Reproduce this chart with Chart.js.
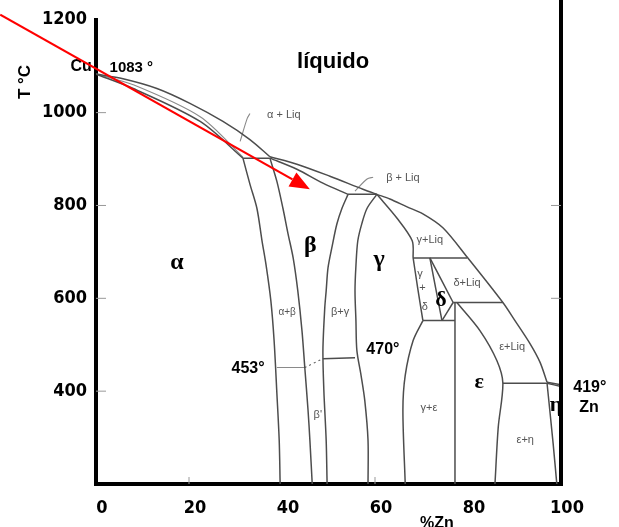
<!DOCTYPE html>
<html>
<head>
<meta charset="utf-8">
<script src="https://cdn.jsdelivr.net/npm/chart.js@4"></script>
<style>
  body { margin: 0; background: #fff; }
  #wrap { width: 619px; height: 527px; position: relative; }
</style>
</head>
<body>
<div id="wrap"><canvas id="chart"></canvas></div>
<script>
// diagrama Cu-Zn : cada frontera de fase es una lista de [%Zn, T]
const xTicks = [0, 20, 40, 60, 80, 100];
const yTicks = [400, 600, 800, 1000, 1200];

const liquidusCu = [[0,1083],[5.8,1073],[13.1,1052],[20.2,1020],[27.3,981],[33.1,942],[37.4,905]];
const liquidusZn = [[37.4,905],[43.2,889],[50.3,863],[57.4,835],[60.4,824],[63.2,814],[66.9,797],[70.3,782],[74.6,752],[79.8,689],[87.5,591],[90.1,552],[93.3,503],[95.5,462],[97,419]];
const liquidusFin = [[97,419],[100,414]];
const solidusAlfa = [[0,1083],[8,1052],[22.4,981],[31.6,902]];
const solidusAlfa2 = [[0,1083],[8,1060],[22.4,991],[31.6,904]];
const perit902 = [[31.6,902],[37.4,902]];
const solvusAlfa = [[31.6,902],[33.1,846],[34.6,794],[35.7,724],[36.6,670],[37.6,595],[38.3,509],[38.9,395],[39.4,294],[39.6,200]];
const betaIzq = [[37.4,902],[38.9,852],[40.2,794],[41.3,739],[42.4,687],[43.4,616],[44.3,530],[44.9,451],[45.6,359],[46.0,294],[46.5,200]];
const solidusBeta = [[37.4,902],[43.2,878],[48.8,848],[54.2,824]];
const perit824 = [[54.2,824],[60.4,824]];
const betaDer = [[54.2,824],[52.9,794],[51.8,760],[50.8,713],[49.9,666],[49.5,616],[49.2,580],[48.8,488],[49.0,402],[49.5,294],[49.7,200]];
const gammaIzq = [[60.4,824],[58.3,794],[57.2,762],[56.3,724],[55.9,670],[55.7,616],[55.9,552],[56.1,488],[57.0,434],[57.8,380],[58.5,294],[58.5,200]];
const gammaLiq = [[60.4,824],[64.7,773],[68.0,724],[68.2,687]];
const perit687 = [[68.2,687],[79.8,687]];
const gammaDelta = [[68.2,687],[69.2,621],[70.3,552]];
const deltaIzq = [[71.8,687],[74.4,552]];
const deltaDer = [[71.8,687],[76.8,591]];
const deltaBase = [[76.8,591],[74.4,552]];
const perit591 = [[76.8,591],[87.5,591]];
const eutect552 = [[70.3,552],[77.2,552]];
const epsVert = [[77.2,591],[77.2,200]];
const gammaEps = [[70.3,552],[68.2,509],[66.5,434],[66.0,359],[66.5,200]];
const epsIzq = [[77.6,591],[82.6,530],[86.2,466],[87.5,417],[86.5,322],[85.8,200]];
const perit417 = [[87.5,417],[97,417]];
const etaCurva = [[97,417],[98.3,288],[99.1,200]];
const zn419 = [[97,417],[100,410]];
const orden453 = [[38.9,451],[44.9,451]];
const ordenPunt = [[44.9,451],[48.8,470]];
const orden470 = [[48.8,470],[55.7,472]];
const flechaAlfaLiq = [[33.1,998],[32.5,987],[31.0,938]];
const flechaBetaLiq = [[59.6,861],[58.3,857],[55.7,831]];

const solidas = [liquidusCu, liquidusZn, liquidusFin, solidusAlfa, perit902, solvusAlfa, betaIzq, solidusBeta,
  perit824, betaDer, gammaIzq, gammaLiq, perit687, gammaDelta, deltaIzq, deltaDer, deltaBase, perit591,
  eutect552, epsVert, gammaEps, epsIzq, perit417, etaCurva, zn419, orden470];
const grises = [solidusAlfa2, orden453, flechaAlfaLiq, flechaBetaLiq];

const toPts = a => a.map(p => ({ x: p[0], y: p[1] }));
const datasets = [];
solidas.forEach(a => datasets.push({ data: toPts(a), borderColor: '#4d4d4d', borderWidth: 1.5 }));
grises.forEach(a => datasets.push({ data: toPts(a), borderColor: '#8a8a8a', borderWidth: 1.1 }));
datasets.push({ data: toPts(ordenPunt), borderColor: '#666', borderWidth: 1.1, borderDash: [2, 3] });

// textos sobre el diagrama [texto, %Zn, T, fuente, color]
const bold = 'bold 16px "Liberation Sans", Arial, sans-serif';
const small = '11px "Liberation Sans", Arial, sans-serif';
const greek = 'bold 24px "Liberation Serif", "DejaVu Serif", serif';
const textos = [
  ['líquido', 51.0, 1110, 'bold 22px "Liberation Sans", Arial, sans-serif', '#000'],
  ['Cu', -3.2, 1099, bold, '#000'],
  ['1083 °', 7.6, 1097, 'bold 15px "Liberation Sans", Arial, sans-serif', '#000'],
  ['α + Liq', 40.4, 996, small, '#555'],
  ['β + Liq', 66.0, 859, small, '#555'],
  ['α', 17.4, 676, greek, '#000'],
  ['β', 46.1, 713, greek, '#000'],
  ['γ', 60.9, 683, greek, '#000'],
  ['δ', 74.2, 595, 'bold 22px "Liberation Serif", serif', '#000'],
  ['ε', 82.4, 419, 'bold 22px "Liberation Serif", serif', '#000'],
  ['η', 98.9, 370, 'bold 22px "Liberation Serif", serif', '#000'],
  ['γ+Liq', 71.8, 726, small, '#555'],
  ['δ+Liq', 79.8, 633, small, '#555'],
  ['ε+Liq', 89.5, 496, small, '#555'],
  ['γ', 69.7, 653, small, '#555'],
  ['+', 70.2, 623, small, '#555'],
  ['δ', 70.7, 582, small, '#555'],
  ['α+β', 41.1, 571, '10px "Liberation Sans", Arial, sans-serif', '#555'],
  ['β+γ', 52.5, 571, small, '#555'],
  ['β\'', 47.7, 348, small, '#555'],
  ['γ+ε', 71.6, 363, small, '#555'],
  ['ε+η', 92.3, 294, small, '#555'],
  ['453°', 32.7, 449, bold, '#000'],
  ['470°', 61.7, 490, bold, '#000'],
  ['419°', 106.2, 408, bold, '#000'],
  ['Zn', 106.0, 365, bold, '#000'],
  ['%Zn', 73.3, 114, bold, '#000']
];
const flecha = [[-20.6, 1211], [46.0, 835]];

const extras = {
  id: 'extras',
  afterDatasetsDraw(chart) {
    const ctx = chart.ctx, xs = chart.scales.x, ys = chart.scales.y, a = chart.chartArea;
    ctx.save();
    // marco derecho y marcas interiores
    ctx.strokeStyle = '#000';
    ctx.lineWidth = 4;
    ctx.beginPath(); ctx.moveTo(a.right, 0); ctx.lineTo(a.right, a.bottom + 2); ctx.stroke();
    ctx.strokeStyle = '#999'; ctx.lineWidth = 1;
    [400, 600, 800, 1000].forEach(v => {
      const y = ys.getPixelForValue(v);
      ctx.beginPath(); ctx.moveTo(a.left, y); ctx.lineTo(a.left + 10, y); ctx.stroke();
    });
    [600, 800].forEach(v => {
      const y = ys.getPixelForValue(v);
      ctx.beginPath(); ctx.moveTo(a.right - 10, y); ctx.lineTo(a.right, y); ctx.stroke();
    });
    [20, 60].forEach(v => {
      const x = xs.getPixelForValue(v);
      ctx.beginPath(); ctx.moveTo(x, a.bottom); ctx.lineTo(x, a.bottom - 7); ctx.stroke();
    });
    // textos
    ctx.textAlign = 'center';
    ctx.textBaseline = 'middle';
    textos.forEach(t => {
      ctx.font = t[3];
      ctx.fillStyle = t[4];
      ctx.fillText(t[0], xs.getPixelForValue(t[1]), ys.getPixelForValue(t[2]));
    });
    ctx.font = 'bold 17px "Liberation Sans", Arial, sans-serif';
    ctx.fillStyle = '#000';
    ctx.translate(25, 82);
    ctx.rotate(-Math.PI / 2);
    ctx.fillText('T °C', 0, 0);
    ctx.restore();
    // flecha roja
    ctx.save();
    const x0 = xs.getPixelForValue(flecha[0][0]), y0 = ys.getPixelForValue(flecha[0][1]);
    const x1 = xs.getPixelForValue(flecha[1][0]), y1 = ys.getPixelForValue(flecha[1][1]);
    const ang = Math.atan2(y1 - y0, x1 - x0), L = 20, W = 8;
    const bx = x1 - L * Math.cos(ang), by = y1 - L * Math.sin(ang);
    ctx.strokeStyle = '#f00'; ctx.fillStyle = '#f00'; ctx.lineWidth = 2.2;
    ctx.beginPath(); ctx.moveTo(x0, y0); ctx.lineTo(bx, by); ctx.stroke();
    ctx.beginPath();
    ctx.moveTo(x1, y1);
    ctx.lineTo(bx + W * Math.sin(ang), by - W * Math.cos(ang));
    ctx.lineTo(bx - W * Math.sin(ang), by + W * Math.cos(ang));
    ctx.closePath(); ctx.fill();
    ctx.restore();
  }
};

const tickFont = { family: '"Liberation Sans Narrow", "DejaVu Sans Condensed", Arial, sans-serif', size: 18, weight: 'bold' };

new Chart(document.getElementById('chart'), {
  type: 'scatter',
  data: { datasets: datasets.map(d => Object.assign({ showLine: true, pointRadius: 0, fill: false, tension: 0.3 }, d)) },
  options: {
    responsive: true,
    maintainAspectRatio: false,
    animation: false,
    layout: { padding: { left: 0, right: 58, top: 18, bottom: 0 } },
    plugins: { legend: { display: false }, tooltip: { enabled: false } },
    scales: {
      x: {
        type: 'linear', min: 0, max: 100,
        afterBuildTicks: s => { s.ticks = xTicks.map(v => ({ value: v })); },
        afterFit: s => { s.height = 43; },
        grid: { display: false, drawTicks: false },
        border: { display: true, color: '#000', width: 4 },
        ticks: { color: '#000', font: tickFont, padding: 14, labelOffset: 6, maxRotation: 0, callback: v => String(v) }
      },
      y: {
        type: 'linear', min: 200, max: 1200,
        afterBuildTicks: s => { s.ticks = yTicks.map(v => ({ value: v })); },
        afterFit: s => { s.width = 96; },
        grid: { display: false, drawTicks: false },
        border: { display: true, color: '#000', width: 4 },
        ticks: { color: '#000', font: tickFont, padding: 9, callback: v => String(v) }
      }
    }
  },
  plugins: [extras]
});
</script>
</body>
</html>
